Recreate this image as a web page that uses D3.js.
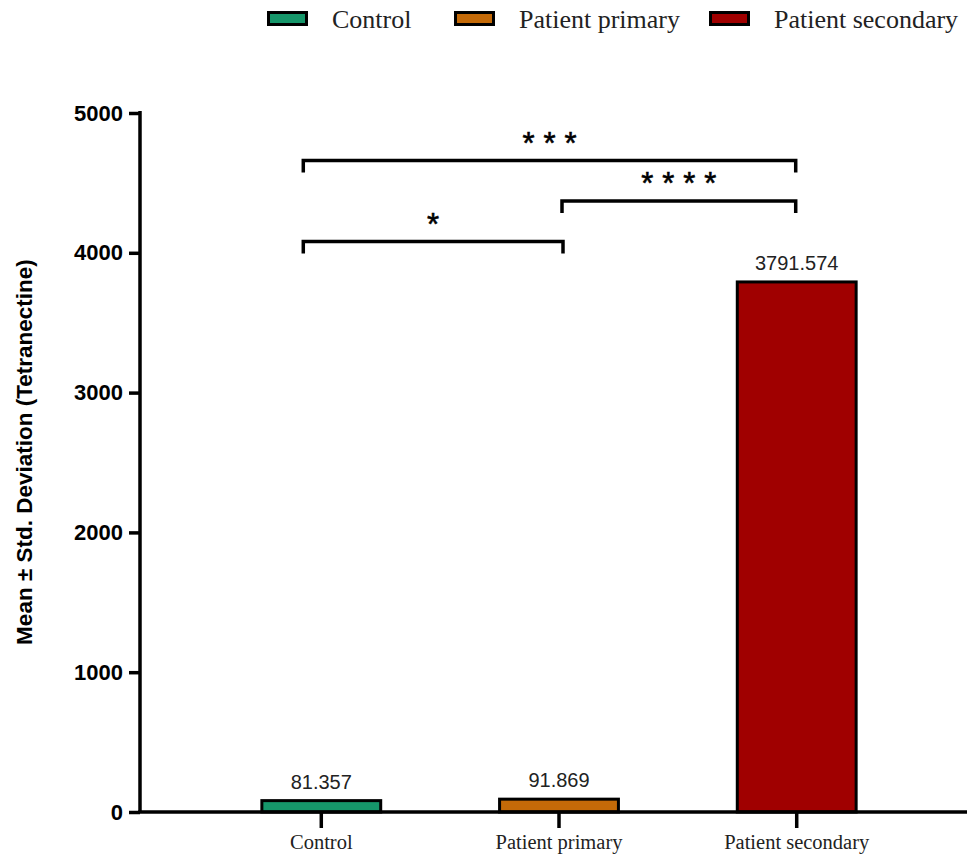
<!DOCTYPE html>
<html>
<head>
<meta charset="utf-8">
<script src="https://cdn.jsdelivr.net/npm/d3@7"></script>
<style>
  html, body { margin: 0; padding: 0; background: #fff; }
  svg { display: block; }
</style>
</head>
<body>
<svg id="chart" width="967" height="856"></svg>
<script>
// Groups, their mean values and fills
const categories = ["Control", "Patient primary", "Patient secondary"];
const means = [81.357, 91.869, 3791.574];
const labels = ["81.357", "91.869", "3791.574"];
const colors = ["#16966a", "#c46a08", "#a00000"];
const yTicks = [0, 1000, 2000, 3000, 4000, 5000];

// Significance comparisons: [from group, to group, bracket height (data units), stars]
const compFrom = ["Control", "Patient primary", "Control"];
const compTo = ["Patient primary", "Patient secondary", "Patient secondary"];
const compLevel = [4080, 4370, 4660];
const compStars = [1, 4, 3];

const svg = d3.select("#chart");

const y = d3.scaleLinear().domain([0, 5000]).range([812, 113]);
const x = d3.scaleBand().domain(categories).range([143, 975]).paddingInner(0.5).paddingOuter(0.5);

const axisX0 = 140;

// Bars
svg.append("g").selectAll("rect")
  .data(categories)
  .join("rect")
  .attr("x", d => x(d))
  .attr("width", x.bandwidth())
  .attr("y", (d, i) => y(means[i]))
  .attr("height", (d, i) => y(0) - y(means[i]))
  .attr("fill", (d, i) => colors[i])
  .attr("stroke", "#000")
  .attr("stroke-width", 3);

// Value labels above bars
svg.append("g").selectAll("text")
  .data(categories)
  .join("text")
  .attr("x", d => x(d) + x.bandwidth() / 2)
  .attr("y", (d, i) => y(means[i]) - 12)
  .attr("text-anchor", "middle")
  .attr("font-family", "Arial, 'Liberation Sans', sans-serif")
  .attr("font-size", 20)
  .attr("fill", "#222")
  .text((d, i) => labels[i]);

// Y axis
const yAxis = svg.append("g")
  .attr("transform", `translate(${axisX0},0)`)
  .call(d3.axisLeft(y).tickValues(yTicks).tickSize(11).tickPadding(6).tickFormat(d3.format("d")));
yAxis.select(".domain").attr("stroke", "#000").attr("stroke-width", 3.5)
  .attr("d", `M0,${y(5000) - 2}V${y(0)}`);
yAxis.selectAll(".tick line").attr("stroke", "#000").attr("stroke-width", 3.5);
yAxis.selectAll(".tick text")
  .attr("font-family", "Arial, 'Liberation Sans', sans-serif")
  .attr("font-weight", "bold")
  .attr("font-size", 22)
  .attr("fill", "#000");

// X axis
const xAxis = svg.append("g")
  .attr("transform", `translate(0,${y(0)})`)
  .call(d3.axisBottom(x).tickSize(16).tickPadding(6));
xAxis.select(".domain").attr("stroke", "#000").attr("stroke-width", 3.5)
  .attr("d", `M${axisX0 - 1.75},0H967`);
xAxis.selectAll(".tick line").attr("stroke", "#000").attr("stroke-width", 3.5);
xAxis.selectAll(".tick text")
  .attr("font-family", "'Liberation Serif', 'Times New Roman', serif")
  .attr("font-size", 20.5)
  .attr("fill", "#222");

// Y axis title
svg.append("text")
  .attr("transform", `translate(32,${452}) rotate(-90)`)
  .attr("text-anchor", "middle")
  .attr("font-family", "Arial, 'Liberation Sans', sans-serif")
  .attr("font-weight", "bold")
  .attr("font-size", 22.5)
  .attr("fill", "#000")
  .text("Mean ± Std. Deviation (Tetranectine)");

// Significance brackets with star counts
const center = c => x(c) + x.bandwidth() / 2;
const brackets = svg.append("g");
compFrom.forEach((f, i) => {
  const xa = f === "Control" ? center(f) - 18 : center(f) + 3;
  const xb = compTo[i] === "Patient primary" ? center(compTo[i]) + 4 : center(compTo[i]) - 1;
  const yy = y(compLevel[i]);
  brackets.append("path")
    .attr("d", `M${xa},${yy + 12}V${yy}H${xb}V${yy + 12}`)
    .attr("fill", "none")
    .attr("stroke", "#000")
    .attr("stroke-width", 3.5);
  const mid = (xa + xb) / 2;
  const n = compStars[i];
  const gap = 21;
  for (let k = 0; k < n; k++) {
    brackets.append("text")
      .attr("x", mid + (k - (n - 1) / 2) * gap)
      .attr("y", yy - 7)
      .attr("text-anchor", "middle")
      .attr("font-family", "Arial, 'Liberation Sans', sans-serif")
      .attr("font-size", 31)
      .attr("stroke", "#000")
      .attr("stroke-width", 0.6)
      .attr("fill", "#000")
      .text("*");
  }
});

// Legend
const legendX = [267, 454, 709];
const legend = svg.append("g");
categories.forEach((c, i) => {
  legend.append("rect")
    .attr("x", legendX[i] + 1.5)
    .attr("y", 12.5)
    .attr("width", 38)
    .attr("height", 12)
    .attr("fill", colors[i])
    .attr("stroke", "#000")
    .attr("stroke-width", 3);
  legend.append("text")
    .attr("x", legendX[i] + 65)
    .attr("y", 28)
    .attr("font-family", "'Liberation Serif', 'Times New Roman', serif")
    .attr("font-size", 26)
    .attr("fill", "#222")
    .text(c);
});
</script>
</body>
</html>
